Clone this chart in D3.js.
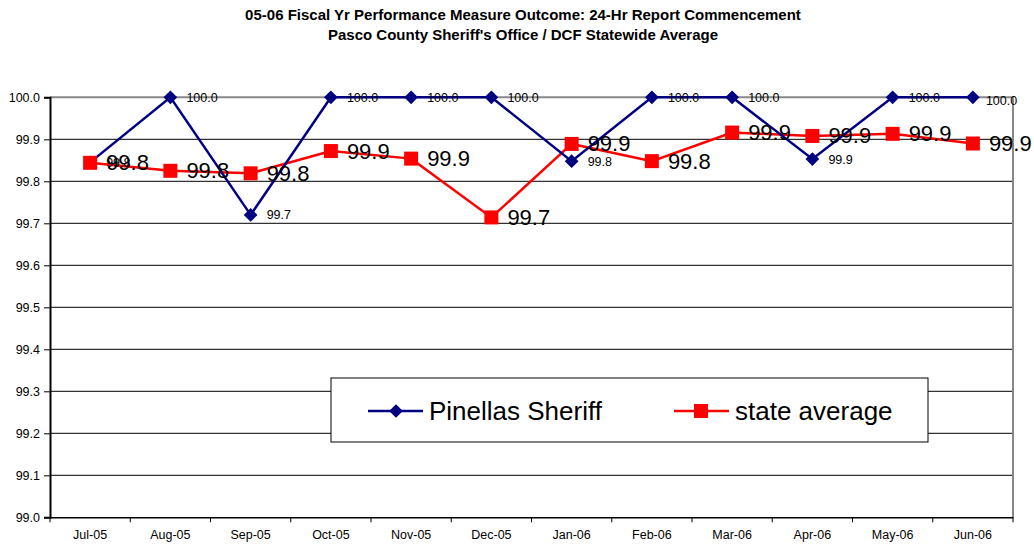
<!DOCTYPE html>
<html>
<head>
<meta charset="utf-8">
<script src="https://cdn.jsdelivr.net/npm/d3@7"></script>
<style>
  body { margin: 0; background: #fff; }
  svg { font-family: Arial, "Liberation Sans", sans-serif; }
</style>
</head>
<body>
<div id="chart"></div>
<script>
var _width = 1034;
var _height = 544;

var months = ["Jul-05","Aug-05","Sep-05","Oct-05","Nov-05","Dec-05","Jan-06","Feb-06","Mar-06","Apr-06","May-06","Jun-06"];
var pinellas = [99.845, 100.0, 99.72, 100.0, 100.0, 100.0, 99.848, 100.0, 100.0, 99.853, 100.0, 100.0];
var stateAvg = [99.844, 99.825, 99.819, 99.872, 99.854, 99.714, 99.889, 99.848, 99.916, 99.908, 99.913, 99.890];
var yTicks = [99.0, 99.1, 99.2, 99.3, 99.4, 99.5, 99.6, 99.7, 99.8, 99.9, 100.0];
var titleLines = ["05-06 Fiscal Yr Performance Measure Outcome: 24-Hr Report Commencement",
                  "Pasco County Sheriff's Office / DCF Statewide Average"];

var _left = 50, _right = 1013, _top = 97.3, _bottom = 517.3;

var svg = d3.select("#chart").append("svg")
    .attr("width", _width)
    .attr("height", _height);

var x = d3.scaleBand().domain(months).range([_left, _right]);
var y = d3.scaleLinear().domain([99.0, 100.0]).range([_bottom, _top]);

// title
svg.selectAll("text.title").data(titleLines).enter().append("text")
    .attr("class", "title")
    .attr("x", 523)
    .attr("y", function (d, i) { return 20 + i * 20; })
    .attr("text-anchor", "middle")
    .style("font-size", "15px")
    .style("font-weight", "bold")
    .text(function (d) { return d; });

// gridlines
svg.append("g").selectAll("line").data(yTicks.slice(1, -1)).enter().append("line")
    .attr("x1", _left).attr("x2", _right)
    .attr("y1", function (d) { return y(d); })
    .attr("y2", function (d) { return y(d); })
    .style("stroke", "#000")
    .style("stroke-width", 1);

// plot border (top and right are gray)
svg.append("line")
    .attr("x1", _left).attr("x2", _right).attr("y1", _top).attr("y2", _top)
    .style("stroke", "#888").style("stroke-width", 2);
svg.append("line")
    .attr("x1", _right).attr("x2", _right).attr("y1", _top).attr("y2", _bottom)
    .style("stroke", "#888").style("stroke-width", 2);

// y axis
var yAxis = svg.append("g")
    .attr("transform", "translate(" + _left + ",0)")
    .call(d3.axisLeft(y).tickValues(yTicks).tickFormat(d3.format(".1f")).tickSize(6).tickPadding(4));
yAxis.select(".domain").style("stroke", "#000").style("stroke-width", 2);
yAxis.selectAll("text").style("font-size", "12.5px").style("fill", "#000").attr("font-family", null);

// x axis, ticks between categories
var xAxis = svg.append("g")
    .attr("transform", "translate(0," + _bottom + ")")
    .call(d3.axisBottom(x).tickSize(0).tickPadding(13));
xAxis.select(".domain").style("stroke", "#000").style("stroke-width", 1.5);
xAxis.selectAll("text").style("font-size", "12.5px").style("fill", "#000").attr("font-family", null);
xAxis.selectAll("line.sep").data(d3.range(months.length + 1)).enter().append("line")
    .attr("class", "sep")
    .attr("x1", function (d) { return _left + d * x.step(); })
    .attr("x2", function (d) { return _left + d * x.step(); })
    .attr("y1", 0).attr("y2", 5)
    .style("stroke", "#000");

function cx(d, i) { return x(months[i]) + x.bandwidth() / 2; }

var line = d3.line()
    .x(function (d, i) { return cx(d, i); })
    .y(function (d) { return y(d); });

// state average series
svg.append("path").datum(stateAvg)
    .attr("d", line)
    .style("fill", "none")
    .style("stroke", "#ff0000")
    .style("stroke-width", 2.5);

// pinellas series
svg.append("path").datum(pinellas)
    .attr("d", line)
    .style("fill", "none")
    .style("stroke", "#000080")
    .style("stroke-width", 2.5);

svg.append("g").selectAll("path").data(pinellas).enter().append("path")
    .attr("d", d3.symbol(d3.symbolDiamond2, 120))
    .attr("transform", function (d, i) { return "translate(" + cx(d, i) + "," + y(d) + ")"; })
    .style("fill", "#000080");

svg.append("g").selectAll("rect").data(stateAvg).enter().append("rect")
    .attr("x", function (d, i) { return cx(d, i) - 7; })
    .attr("y", function (d) { return y(d) - 7; })
    .attr("width", 14).attr("height", 14)
    .style("fill", "#ff0000");

// data labels (last one pushed down a bit like the original)
svg.append("g").selectAll("text").data(pinellas).enter().append("text")
    .attr("x", function (d, i) { return cx(d, i) + (i == months.length - 1 ? 13 : 16); })
    .attr("y", function (d, i) { return y(d) + (i == months.length - 1 ? 8 : 4.5); })
    .style("font-size", "12.5px")
    .text(function (d) { return d.toFixed(1); });

svg.append("g").selectAll("text").data(stateAvg).enter().append("text")
    .attr("x", function (d, i) { return cx(d, i) + 16; })
    .attr("y", function (d) { return y(d) + 7.5; })
    .style("font-size", "22px")
    .text(function (d) { return d.toFixed(1); });

// legend
var legend = svg.append("g");
legend.append("rect")
    .attr("x", 331).attr("y", 378).attr("width", 597).attr("height", 64)
    .style("fill", "#fff").style("stroke", "#000").style("stroke-width", 1);

var legendItems = [
    { name: "Pinellas Sheriff", color: "#000080", shape: "diamond", x0: 368 },
    { name: "state average", color: "#ff0000", shape: "square", x0: 674 }
];
legendItems.forEach(function (it) {
    legend.append("line")
        .attr("x1", it.x0).attr("x2", it.x0 + 55)
        .attr("y1", 411).attr("y2", 411)
        .style("stroke", it.color).style("stroke-width", 2.5);
    if (it.shape == "diamond") {
        legend.append("path")
            .attr("d", d3.symbol(d3.symbolDiamond2, 120))
            .attr("transform", "translate(" + (it.x0 + 28) + ",411)")
            .style("fill", it.color);
    } else {
        legend.append("rect")
            .attr("x", it.x0 + 20).attr("y", 404).attr("width", 14).attr("height", 14)
            .style("fill", it.color);
    }
    legend.append("text")
        .attr("x", it.x0 + 61).attr("y", 420)
        .style("font-size", "26px")
        .text(it.name);
});
</script>
</body>
</html>
